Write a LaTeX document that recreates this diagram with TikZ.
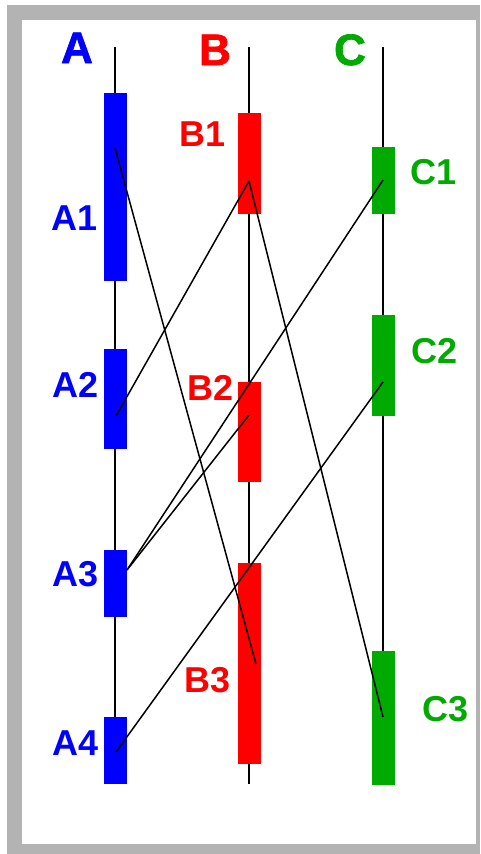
\documentclass[tikz,border=0pt]{standalone}
\usepackage{fontspec}
\setmainfont{Liberation Sans}
\newfontfamily\hdrfont[FakeBold=1.6]{Liberation Sans Bold}
\definecolor{ablue}{RGB}{0,0,255}
\definecolor{bred}{RGB}{255,0,0}
\definecolor{cgreen}{RGB}{0,170,0}
\definecolor{framegray}{RGB}{179,179,179}
\tikzset{
  bar/.style={rectangle, inner sep=0pt, minimum width=23pt, anchor=north},
  hdr/.style={anchor=base, inner sep=0pt, font=\hdrfont\fontsize{44}{44}\selectfont},
  sub/.style={anchor=base, inner sep=0pt, font=\bfseries\fontsize{36}{36}\selectfont},
  lifeline/.style={line width=1.8pt, black},
  link/.style={line width=1.5pt, black}
}
\begin{document}
\begin{tikzpicture}[x=1pt,y=-1pt]
\useasboundingbox (0,0) rectangle (480,854);
% frame
\fill[framegray] (7,5) rectangle (480,854);
\fill[white] (22,20) rectangle (476,844);
% lifeline ends
\coordinate (atop) at (115,47); \coordinate (abot) at (115,784);
\coordinate (btop) at (249,47); \coordinate (bbot) at (249,784);
\coordinate (ctop) at (383,47); \coordinate (cbot) at (383,785);
\draw[lifeline] (atop) -- (abot);
\draw[lifeline] (btop) -- (bbot);
\draw[lifeline] (ctop) -- (cbot);
% headers
\node[hdr, text=ablue] (ha) at (77,63) {A};
\node[hdr, text=bred] (hb) at (215,65) {B};
\node[hdr, text=cgreen] (hc) at (350,65) {C};
% A boxes
\node[bar, fill=ablue, minimum height=188pt] (A1) at (115.5,93) {};
\node[bar, fill=ablue, minimum height=100pt] (A2) at (115.5,349) {};
\node[bar, fill=ablue, minimum height=67pt] (A3) at (115.5,550) {};
\node[bar, fill=ablue, minimum height=67pt] (A4) at (115.5,717) {};
% B boxes
\node[bar, fill=bred, minimum height=101pt] (B1) at (249.5,113) {};
\node[bar, fill=bred, minimum height=100pt] (B2) at (249.5,382) {};
\node[bar, fill=bred, minimum height=201pt] (B3) at (249.5,563) {};
% C boxes
\node[bar, fill=cgreen, minimum height=67pt] (C1) at (383.5,147) {};
\node[bar, fill=cgreen, minimum height=101pt] (C2) at (383.5,315) {};
\node[bar, fill=cgreen, minimum height=134pt] (C3) at (383.5,651) {};
% labels
\node[sub, text=ablue] (lA1) at (75,230) {A1};
\node[sub, text=ablue] (lA2) at (76,397) {A2};
\node[sub, text=ablue] (lA3) at (76,586) {A3};
\node[sub, text=ablue] (lA4) at (76,755) {A4};
\node[sub, text=bred] (lB1) at (202.5,146) {B1};
\node[sub, text=bred] (lB2) at (210.5,400) {B2};
\node[sub, text=bred] (lB3) at (207.5,692) {B3};
\node[sub, text=cgreen] (lC1) at (433.5,184) {C1};
\node[sub, text=cgreen] (lC2) at (434.5,363) {C2};
\node[sub, text=cgreen] (lC3) at (445.5,721) {C3};
% connection points
\coordinate (a1p) at (115,148);
\coordinate (a2p) at (116,416);
\coordinate (a3p) at (127,570);
\coordinate (a4p) at (116,752);
\coordinate (b1p) at (249,181);
\coordinate (b2p) at (249,415);
\coordinate (b3p) at (256,664);
\coordinate (c1p) at (383,180);
\coordinate (c2p) at (383,382);
\coordinate (c3p) at (383,717);
% connectors
\draw[link] (a1p) -- (b3p);
\draw[link] (a2p) -- (b1p);
\draw[link] (b1p) -- (c3p);
\draw[link] (a3p) -- (b2p);
\draw[link] (a3p) -- (c1p);
\draw[link] (a4p) -- (c2p);
\end{tikzpicture}
\end{document}
